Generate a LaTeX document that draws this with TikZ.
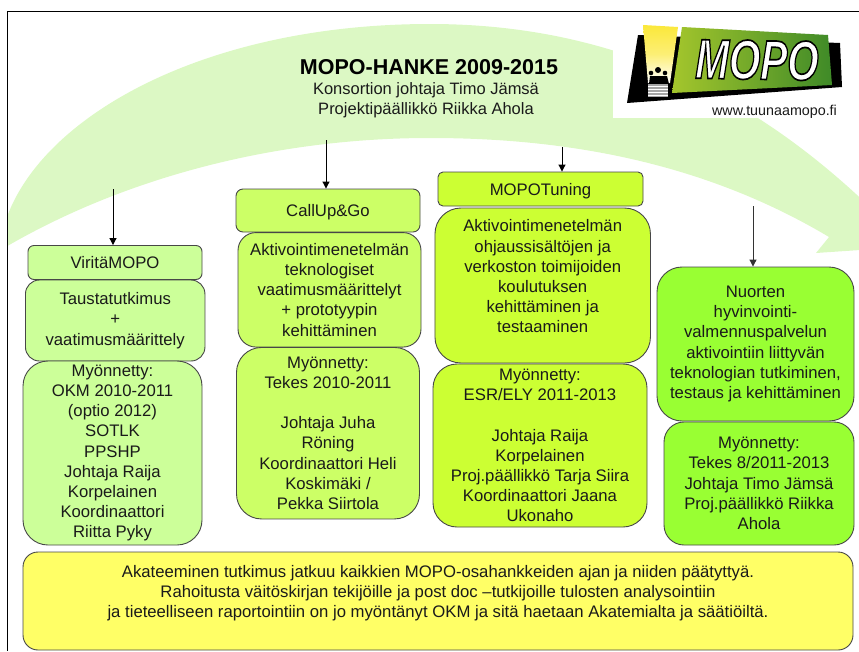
\documentclass[tikz,border=0pt]{standalone}
\usepackage{fontspec}
\setmainfont{Liberation Sans}
\newfontfamily\mopofont[FakeBold=3,BoldItalicFont={Liberation Sans Bold Italic}]{Liberation Sans Bold Italic}
\usetikzlibrary{arrows.meta}
\definecolor{swoosh}{HTML}{DCF8C4}
\definecolor{lightg}{HTML}{CCFF99}
\definecolor{midg}{HTML}{CCFF66}
\definecolor{limeg}{HTML}{CCFF33}
\definecolor{brightg}{HTML}{99FF33}
\definecolor{yell}{HTML}{FFFF66}
\definecolor{ink}{HTML}{1A1A1A}
\definecolor{logol}{HTML}{A4C62C}
\definecolor{logor}{HTML}{3F8A28}
\definecolor{bulbt}{HTML}{FBE83A}
\tikzset{
  panel/.style={draw=black!72,line width=0.9pt,align=center,text=ink,font=\fontsize{16.7}{20.2}\selectfont,inner sep=0pt},
  conn/.style={draw=black,line width=1pt,-{Triangle[length=7pt,width=7pt]},shorten >=0pt},
  plain/.style={align=center,text=ink,inner sep=0pt}
}
\begin{document}
\begin{tikzpicture}[x=1pt,y=-1pt]
\useasboundingbox (0,0) rectangle (859,651);
\clip (0,0) rectangle (859,651);
% swoosh
\begin{scope}
\clip (8,12) rectangle (859,651);
\fill[swoosh] (4,226) .. controls (35,120) and (200,24) .. (430,24)
  .. controls (620,24) and (760,100) .. (875,212)
  -- (875,249) -- (816,253) -- (829,237)
  .. controls (700,160) and (560,138) .. (430,138)
  .. controls (270,138) and (120,180) .. (4,248) -- cycle;
\end{scope}
% frame
\draw[black,line width=1pt] (859,11.5) -- (7.5,11.5) -- (7.5,651);
% logo
\fill[white] (613,12.2) rectangle (859,118);
\fill[black] (638,35) -- (840,43) -- (842,87) -- (627,103) -- cycle;
\shade[top color=bulbt,bottom color=white,middle color=bulbt!70] (643,25) -- (678,27) -- (670,83) -- (648,83) -- cycle;
\fill[black] (658,70) circle (3) (651,73) circle (2.3) (665,73) circle (2.3);
\fill[black] (649,84) -- (650,76) -- (667,76) -- (669,84) -- cycle;
\fill[black!35] (648,84) rectangle (668,97);
\foreach \yy in {86,89,92,95}{\draw[white,line width=0.6pt] (648,\yy) -- (668,\yy);}
\shade[left color=logol,right color=logor] (682,27) -- (828,35) -- (832,85) -- (672,93) -- cycle;
\node[inner sep=0pt,text=white,rotate=-1,xscale=0.72] (mopo) at (757,60) {\fontsize{56}{56}\selectfont\mopofont\special{pdf:code 0 0 0 RG}MOPO};
\node[plain,font=\fontsize{14.3}{15}\selectfont] (url) at (774.5,112) {www.tuunaamopo.fi};
% titles
\node[plain,text=black,font=\fontsize{21.5}{24}\bfseries\selectfont] (title) at (429,67) {MOPO-HANKE 2009-2015};
\node[plain,font=\fontsize{16.5}{20.2}\selectfont] (sub) at (426,100) {Konsortion johtaja Timo Jämsä\\Projektipäällikkö Riikka Ahola};
% column 1
\node[panel,fill=lightg,rounded corners=6pt,minimum width=174pt,minimum height=34pt] (a1) at (115,262.5) {ViritäMOPO};
\node[panel,fill=lightg,rounded corners=14pt,minimum width=179.5pt,minimum height=81pt] (a2) at (115.2,320.5) {Taustatutkimus\\+\\vaatimusmäärittely};
\node[panel,fill=lightg,rounded corners=25pt,minimum width=179pt,minimum height=184pt] (a3) at (112.5,453) {Myönnetty:\\OKM 2010-2011\\(optio 2012)\\SOTLK\\PPSHP\\Johtaja Raija\\Korpelainen\\Koordinaattori\\Riitta Pyky};
% column 2
\node[panel,fill=midg,rounded corners=7pt,minimum width=184pt,minimum height=43pt,text height=12pt,text depth=0pt] (b1) at (328,210.5) {CallUp\&Go};
\node[panel,fill=midg,rounded corners=18pt,minimum width=183pt,minimum height=114.5pt] (b2) at (329.5,289.8) {Aktivointimenetelmän\\teknologiset\\vaatimusmäärittelyt\\+ prototyypin\\kehittäminen};
\node[panel,fill=midg,rounded corners=25pt,minimum width=183pt,minimum height=171.5pt] (b3) at (328,433.2) {Myönnetty:\\Tekes 2010-2011\\[20.2pt]Johtaja Juha\\Röning\\Koordinaattori Heli\\Koskimäki /\\Pekka Siirtola};
% column 3
\node[panel,fill=limeg,rounded corners=5pt,minimum width=205pt,minimum height=34pt,text height=12pt,text depth=0pt] (c1) at (540.5,189) {MOPOTuning};
\node[panel,fill=limeg,rounded corners=26pt,minimum width=215.5pt,minimum height=155pt] (c2) at (542.7,285.5) {Aktivointimenetelmän\\ohjaussisältöjen ja\\verkoston toimijoiden\\koulutuksen\\kehittäminen ja\\testaaminen\\[-2pt]\mbox{}};
\node[panel,fill=limeg,rounded corners=24pt,minimum width=214pt,minimum height=163pt] (c3) at (540,445.5) {Myönnetty:\\ESR/ELY 2011-2013\\[20.2pt]Johtaja Raija\\Korpelainen\\Proj.päällikkö Tarja Siira\\Koordinaattori Jaana\\Ukonaho};
% column 4
\node[panel,fill=brightg,rounded corners=25pt,minimum width=197pt,minimum height=154pt] (d1) at (755.5,344) {Nuorten\\hyvinvointi-\\valmennuspalvelun\\aktivointiin liittyvän\\teknologian tutkiminen,\\testaus ja kehittäminen};
\node[panel,fill=brightg,rounded corners=20pt,minimum width=190pt,minimum height=123pt] (d2) at (759,483.5) {Myönnetty:\\Tekes 8/2011-2013\\Johtaja Timo Jämsä\\Proj.päällikkö Riikka\\Ahola};
% bottom
\node[panel,fill=yell,rounded corners=15pt,minimum width=830pt,minimum height=98pt,font=\fontsize{16.7}{19.9}\selectfont] (e) at (438,601) {Akateeminen tutkimus jatkuu kaikkien MOPO-osahankkeiden ajan ja niiden päätyttyä.\\Rahoitusta väitöskirjan tekijöille ja post doc –tutkijoille tulosten analysointiin\\ja tieteelliseen raportointiin on jo myöntänyt OKM ja sitä haetaan Akatemialta ja säätiöiltä.\\\mbox{}};
% connectors
\coordinate (s1) at (113,189);
\coordinate (s2) at (326,140);
\coordinate (s3) at (562,147);
\coordinate (s4) at (753,206);
\draw[conn] (s1) -- (s1 |- a1.north);
\draw[conn] (s2) -- (s2 |- b1.north);
\draw[conn] (s3) -- (s3 |- c1.north);
\draw[conn,draw=black!80] (s4) -- (s4 |- d1.north);
\end{tikzpicture}
\end{document}
